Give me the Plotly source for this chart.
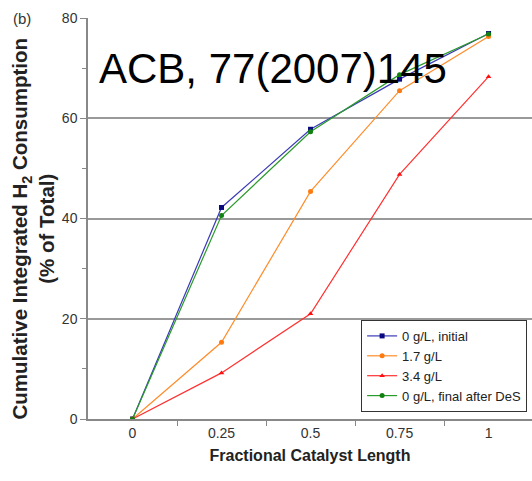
import plotly.graph_objects as go

x_vals = [0, 0.25, 0.5, 0.75, 1]
x_labels = ["0", "0.25", "0.5", "0.75", "1"]
initial_0 = [0, 42.2, 57.8, 67.8, 76.9]
conc_17 = [0, 15.3, 45.4, 65.5, 76.3]
conc_34 = [0, 9.2, 21.0, 48.8, 68.3]
final_0 = [0, 40.6, 57.3, 68.7, 76.8]

series = [
    ("0 g/L, initial", initial_0, "#3a3ab8", "#0a0a80", "square"),
    ("1.7 g/L", conc_17, "#ff8c2a", "#ff7a10", "circle"),
    ("3.4 g/L", conc_34, "#ff3030", "#ff1010", "triangle-up"),
    ("0 g/L, final after DeS", final_0, "#2a9a2a", "#108010", "circle"),
]

fig = go.Figure()
for name, ys, lc, mc, sym in series:
    fig.add_trace(go.Scatter(
        x=x_vals, y=ys, name=name, mode="lines+markers",
        line=dict(color=lc, width=1.2),
        marker=dict(color=mc, symbol=sym, size=5),
    ))

font = "Liberation Sans, Arial, sans-serif"
fig.update_layout(
    width=532, height=481,
    margin=dict(l=88, r=0, t=18, b=62),
    plot_bgcolor="white", paper_bgcolor="white",
    font=dict(family=font, color="#333333", size=14),
    showlegend=True,
    legend=dict(
        x=0.989, y=0.247, xanchor="right", yanchor="top",
        bordercolor="#333333", borderwidth=1, bgcolor="white",
        font=dict(size=13, color="#222222"),
        tracegroupgap=0, itemwidth=30,
    ),
    xaxis=dict(
        range=[-0.125, 1.122],
        tickvals=x_vals, ticktext=x_labels, ticks="", ticklen=0,
        showgrid=False, zeroline=False,
        showline=True, linecolor="#888888", linewidth=1.5,
        minor=dict(tickmode="array", tickvals=[0.125, 0.375, 0.625, 0.875],
                   ticks="outside", ticklen=5, tickcolor="#888888"),
        title=dict(text="<b>Fractional Catalyst Length</b>",
                   font=dict(size=16, color="#222222"), standoff=10),
        tickfont=dict(size=14, color="#333333"),
    ),
    yaxis=dict(
        range=[0, 80], tickvals=[0, 20, 40, 60, 80],
        ticks="outside", ticklen=6, tickcolor="#888888",
        showgrid=True, gridcolor="#999999", gridwidth=1.5,
        zeroline=False, showline=True, linecolor="#888888", linewidth=1.5,
        minor=dict(tickvals=[10, 30, 50, 70], ticks="outside", ticklen=4,
                   tickcolor="#888888", showgrid=False),
        tickfont=dict(size=14, color="#333333"),
    ),
    annotations=[
        dict(text="<b>Cumulative Integrated H<sub>2</sub> Consumption<br>(% of Total)</b>",
             xref="paper", yref="paper", x=-0.124, y=0.475,
             xanchor="center", yanchor="middle", textangle=-90, showarrow=False,
             font=dict(size=20.5, color="#222222")),
        dict(text="(b)", xref="paper", yref="paper", x=-0.173, y=1.0,
             xanchor="left", yanchor="middle", showarrow=False,
             font=dict(size=15, color="#333333")),
        dict(text="ACB, 77(2007)145", xref="paper", yref="paper", x=0.02, y=0.875,
             xanchor="left", yanchor="middle", showarrow=False,
             font=dict(size=42, color="black")),
    ],
)

fig.write_html("out.html")
